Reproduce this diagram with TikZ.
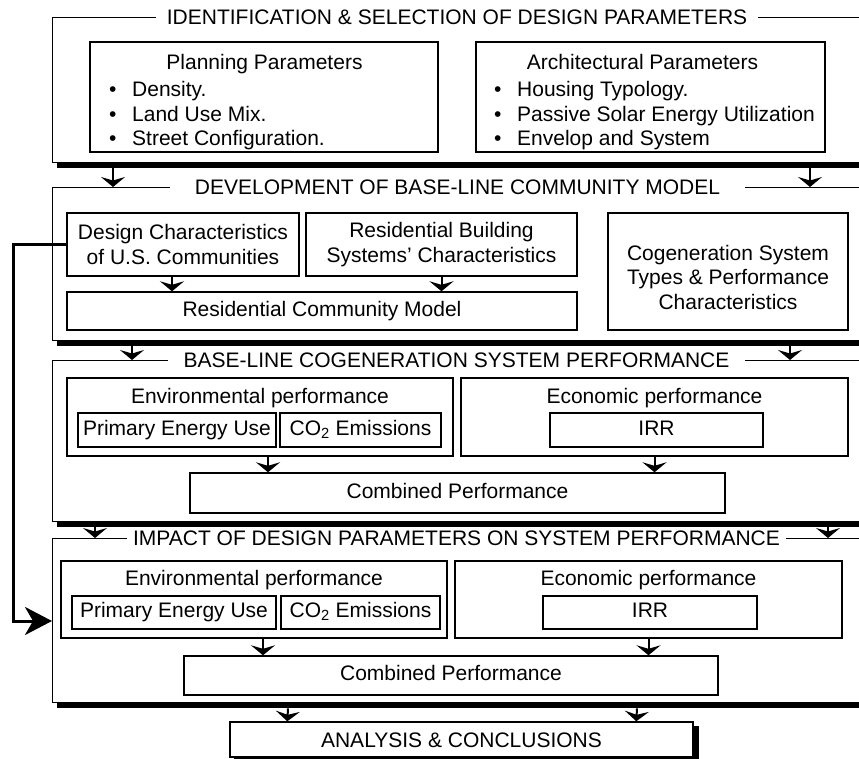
\documentclass[tikz,border=0pt]{standalone}
\usepackage{fontspec}
\setmainfont{Liberation Sans}
\usetikzlibrary{arrows.meta}
\begin{document}
\begin{tikzpicture}[x=1pt,y=-1pt,
  every node/.style={font=\fontsize{21}{24.5}\selectfont, inner sep=0pt},
  panel/.style={draw, line width=1.4pt, anchor=north west, minimum width=830pt},
  ptitle/.style={fill=white, inner ysep=0pt, text height=15pt, text depth=0pt},
  box/.style={draw, line width=1.4pt, text height=15pt, text depth=4.5pt},
  mbox/.style={draw, line width=1.4pt, align=center},
  lbl/.style={anchor=base},
  item/.style={anchor=base west},
  shadow/.style={fill=black},
  arr/.style={line width=2pt, -{Stealth[length=10pt,width=24pt,inset=3.5pt]}},
  fb/.style={line width=3pt, -{Stealth[length=27pt,width=28pt,inset=8pt]}}
]
\useasboundingbox (0,0) rectangle (859,759);
\clip (0,0) rectangle (859,759);

% ---------- panels ----------
\node[panel, minimum height=145pt] (P1) at (52,17) {};
\node[panel, minimum height=153pt] (P2) at (52,187) {};
\node[panel, minimum height=161pt] (P3) at (52,360) {};
\node[panel, minimum height=164pt] (P4) at (52,538) {};
\foreach \p in {P1,P2,P3,P4}{
  \fill[shadow] ([xshift=5pt]\p.south west) rectangle ([yshift=-5pt]\p.south east);
}
\node[ptitle, inner xsep=11pt] (T1) at (457,17) {IDENTIFICATION \& SELECTION OF DESIGN PARAMETERS};
\node[ptitle, inner xsep=25pt] (T2) at (457.5,187) {DEVELOPMENT OF BASE-LINE COMMUNITY MODEL};
\node[ptitle, inner xsep=16pt] (T3) at (456.5,360) {BASE-LINE COGENERATION SYSTEM PERFORMANCE};
\node[ptitle, inner xsep=6pt] (T4) at (456.5,538) {IMPACT OF DESIGN PARAMETERS ON SYSTEM PERFORMANCE};

% ---------- panel 1 ----------
\node[box, minimum width=348pt, minimum height=110pt] (plan) at (264,97) {};
\node[lbl] (planT) at (264.5,70) {Planning Parameters};
\node[item] (pl1) at (109,97) {\makebox[23pt][l]{•}Density.};
\node[item] (pl2) at (109,122) {\makebox[23pt][l]{•}Land Use Mix.};
\node[item] (pl3) at (109,146) {\makebox[23pt][l]{•}Street Configuration.};

\node[box, minimum width=349pt, minimum height=110pt] (arch) at (650.5,97) {};
\node[lbl] (archT) at (642.5,70) {Architectural Parameters};
\node[item] (ar1) at (494,97) {\makebox[23pt][l]{•}Housing Typology.};
\node[item] (ar2) at (494,122) {\makebox[23pt][l]{•}Passive Solar Energy Utilization};
\node[item] (ar3) at (494,146) {\makebox[23pt][l]{•}Envelop and System};

% ---------- panel 2 ----------
\node[mbox, minimum width=232pt, minimum height=63pt] (dc) at (183,244.5) {Design Characteristics\\of U.S. Communities};
\node[mbox, minimum width=271pt, minimum height=63pt] (rb) at (441.5,244.5) {Residential Building\\Systems' Characteristics};
\node[box, minimum width=510pt, minimum height=38pt] (rcm) at (322,311) {Residential Community Model};
\node[box, minimum width=240pt, minimum height=117pt] (cog) at (728,271.5) {};
\node[align=center] (cogT) at (728,277) {Cogeneration System\\Types \& Performance\\Characteristics};

% ---------- panel 3 ----------
\node[box, minimum width=386pt, minimum height=78pt] (env3) at (260,417) {};
\node[lbl] (env3T) at (260,403) {Environmental performance};
\node[box, minimum width=198pt, minimum height=34pt] (peu3) at (177,430) {Primary Energy Use};
\node[box, minimum width=161pt, minimum height=34pt] (co23) at (360.5,430) {CO\textsubscript{2} Emissions};
\node[box, minimum width=387pt, minimum height=78pt] (eco3) at (654.5,417) {};
\node[lbl] (eco3T) at (654.5,403) {Economic performance};
\node[box, minimum width=213pt, minimum height=34pt] (irr3) at (656.5,430) {IRR};
\node[box, minimum width=535pt, minimum height=40pt] (comb3) at (457.5,493) {Combined Performance};

% ---------- panel 4 ----------
\node[box, minimum width=386pt, minimum height=77pt] (env4) at (254,599.5) {};
\node[lbl] (env4T) at (254,585) {Environmental performance};
\node[box, minimum width=204pt, minimum height=33pt] (peu4) at (174,612.5) {Primary Energy Use};
\node[box, minimum width=159pt, minimum height=33pt] (co24) at (360.5,612.5) {CO\textsubscript{2} Emissions};
\node[box, minimum width=387pt, minimum height=77pt] (eco4) at (648.5,599.5) {};
\node[lbl] (eco4T) at (648.5,585) {Economic performance};
\node[box, minimum width=214pt, minimum height=33pt] (irr4) at (650,612.5) {IRR};
\node[box, minimum width=534pt, minimum height=39pt] (comb4) at (451,675.5) {Combined Performance};

% ---------- analysis ----------
\node[box, minimum width=463pt, minimum height=35pt, text depth=0pt] (ana) at (461.5,739.5) {ANALYSIS \& CONCLUSIONS};
\fill[shadow] ([yshift=-5pt]ana.north east) rectangle ([xshift=5pt,yshift=-5pt]ana.south east);
\fill[shadow] ([xshift=5pt]ana.south west) rectangle ([xshift=5pt,yshift=-5pt]ana.south east);

% ---------- arrows between panels ----------
\draw[arr] ([xshift=61pt,yshift=-5pt]P1.south west) -- ([xshift=61pt]P2.north west);
\draw[arr] ([xshift=758pt,yshift=-5pt]P1.south west) -- ([xshift=758pt]P2.north west);
\draw[arr] ([xshift=80pt,yshift=-5pt]P2.south west) -- ([xshift=80pt]P3.north west);
\draw[arr] ([xshift=738pt,yshift=-5pt]P2.south west) -- ([xshift=738pt]P3.north west);
\draw[arr] ([xshift=43pt,yshift=-5pt]P3.south west) -- ([xshift=43pt]P4.north west);
\draw[arr] ([xshift=776pt,yshift=-5pt]P3.south west) -- ([xshift=776pt]P4.north west);
\draw[arr] ([xshift=236pt,yshift=-5pt]P4.south west) -- ([xshift=58pt]ana.north west);
\draw[arr] ([xshift=585pt,yshift=-5pt]P4.south west) -- ([xshift=407pt]ana.north west);

% ---------- arrows inside panels ----------
\coordinate (a1) at ([xshift=-11pt]dc.south);
\draw[arr] (a1) -- (a1 |- rcm.north);
\draw[arr] (rb.south) -- (rb.south |- rcm.north);
\coordinate (a3) at ([xshift=8pt]env3.south);
\draw[arr] (a3) -- (a3 |- comb3.north);
\draw[arr] (eco3.south) -- (eco3.south |- comb3.north);
\coordinate (a5) at ([xshift=9pt]env4.south);
\draw[arr] (a5) -- (a5 |- comb4.north);
\draw[arr] (eco4.south) -- (eco4.south |- comb4.north);

% ---------- feedback ----------
\coordinate (fbx) at (13,621);
\draw[fb] (dc.west) -| (fbx) -- (fbx -| P4.west);
\end{tikzpicture}
\end{document}
